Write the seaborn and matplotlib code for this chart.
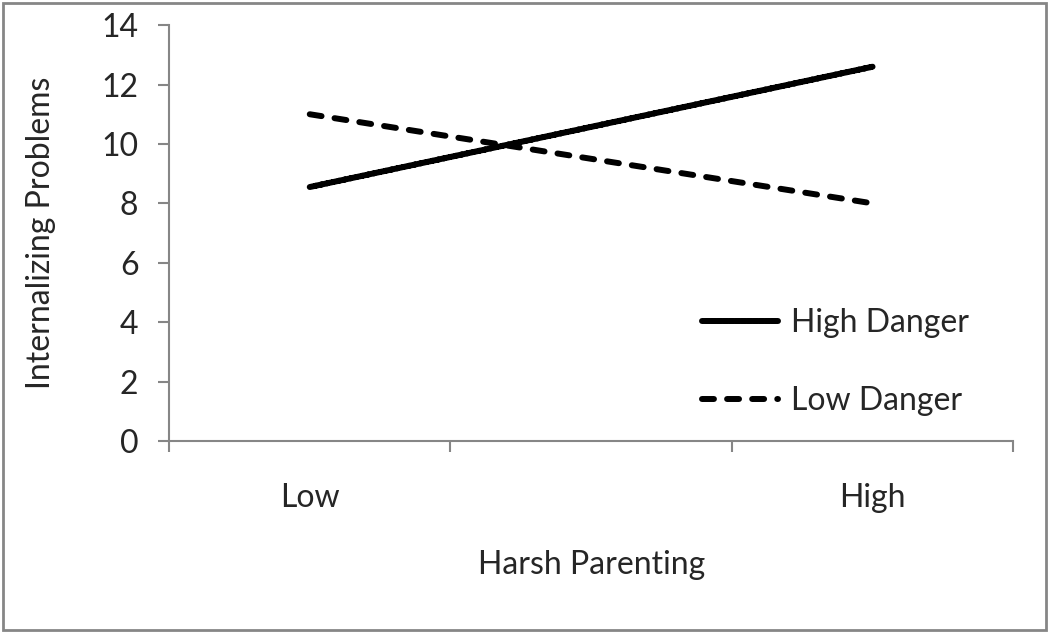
import numpy as np
import pandas as pd
import matplotlib
matplotlib.use("Agg")
import matplotlib.pyplot as plt
from matplotlib.patches import Rectangle
import seaborn as sns

# Values
harsh_levels = ["Low", "High"]
high_danger = [8.55, 12.6]
low_danger = [11.0, 8.0]
series_names = ["High Danger", "Low Danger"]
y_ticks = [0, 2, 4, 6, 8, 10, 12, 14]

# the category axis has three slots, the middle one is empty
slot_of = {"Low": 0, "High": 2}

df = pd.DataFrame({
    "Harsh Parenting": harsh_levels * 2,
    "Internalizing Problems": high_danger + low_danger,
    "Danger": [series_names[0]] * 2 + [series_names[1]] * 2,
})
df["slot"] = df["Harsh Parenting"].map(slot_of)

sns.set_theme(style="white")
plt.rcParams["font.family"] = ["Lato", "DejaVu Sans"]
fs = 23

fig = plt.figure(figsize=(10.5, 6.33), dpi=100)
ax = fig.add_axes([0.161, 0.3033, 0.804, 0.657])

sns.lineplot(
    data=df, x="slot", y="Internalizing Problems",
    hue="Danger", style="Danger",
    palette=["black", "black"],
    dashes=[(1, 0), (2, 2.2)],
    linewidth=4.3, markers=False, ax=ax,
)
for ln in ax.get_lines():
    ln.set_solid_capstyle("round")
    ln.set_dash_capstyle("round")

grey = "#868686"
ax.set_xlim(-0.5, 2.5)
ax.set_ylim(0, 14)
ax.set_yticks(y_ticks)
ax.set_xticks([-0.5, 0.5, 1.5, 2.5])
ax.set_xticklabels([])
ax.set_xticks([slot_of[h] for h in harsh_levels], minor=True)
ax.set_xticklabels(harsh_levels, minor=True)

for s in ["top", "right"]:
    ax.spines[s].set_visible(False)
for s in ["left", "bottom"]:
    ax.spines[s].set_color(grey)
    ax.spines[s].set_linewidth(1.5)

ax.tick_params(axis="y", which="major", direction="out", length=8, width=1.5,
               color=grey, labelsize=fs, pad=14, left=True)
ax.tick_params(axis="x", which="major", direction="out", length=8, width=1.5,
               color=grey, bottom=True)
ax.tick_params(axis="x", which="minor", length=0, labelsize=fs, pad=30)

ax.set_xlabel("Harsh Parenting", fontsize=fs, labelpad=27)
ax.set_ylabel("Internalizing Problems", fontsize=fs, labelpad=33)

handles, labels = ax.get_legend_handles_labels()
for h in handles:
    h.set_solid_capstyle("round")
    h.set_dash_capstyle("round")
ax.legend(handles, labels, loc="center left", bbox_to_anchor=(0.597, 0.19),
          frameon=False, fontsize=fs, handlelength=2.4, handletextpad=0.4,
          labelspacing=1.5)

fig.patches.append(Rectangle((0.003, 0.004), 0.993, 0.991, transform=fig.transFigure,
                             fill=False, edgecolor=grey, linewidth=2))

fig.savefig("out.png", dpi=100)
